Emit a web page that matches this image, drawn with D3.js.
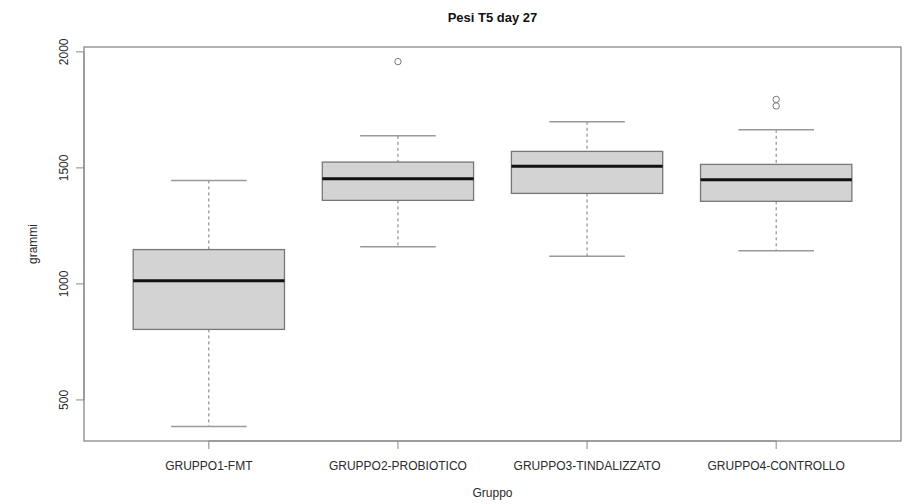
<!DOCTYPE html>
<html>
<head>
<meta charset="utf-8">
<script src="https://cdn.jsdelivr.net/npm/d3@7"></script>
<style>
  body { margin: 0; background: #fff; }
  text { font-family: "Liberation Sans", Arial, sans-serif; fill: #2a2a2a; }
</style>
</head>
<body>
<script>
// values
const groups = ['GRUPPO1-FMT', 'GRUPPO2-PROBIOTICO', 'GRUPPO3-TINDALIZZATO', 'GRUPPO4-CONTROLLO'];
const lowerWhisker = [386, 1160, 1119, 1143];
const q1 = [804, 1360, 1390, 1356];
const median = [1014, 1453, 1507, 1449];
const q3 = [1148, 1525, 1571, 1515];
const upperWhisker = [1446, 1638, 1699, 1664];
const outliers = [[], [1958], [], [1795, 1767]];
const yTicks = [500, 1000, 1500, 2000];

const w = 906, h = 504;
const plotLeft = 84, plotRight = 901, plotTop = 47, plotBottom = 441;

let svg = d3.select(document.body).append('svg')
  .attr('width', w)
  .attr('height', h);

// like R: xlim c(0.5, n + 0.5) extended by 4%
let n = groups.length;
let x = d3.scaleLinear()
  .domain([0.5 - 0.04 * n, n + 0.5 + 0.04 * n])
  .range([plotLeft, plotRight]);

let allVals = lowerWhisker.concat(upperWhisker, outliers.flat());
let lo = d3.min(allVals), hi = d3.max(allVals), pad = (hi - lo) * 0.04;
let y = d3.scaleLinear()
  .domain([lo - pad, hi + pad])
  .range([plotBottom, plotTop]);

let data = groups.map((g, i) => ({
  name: g, pos: i + 1,
  lw: lowerWhisker[i], q1: q1[i], med: median[i], q3: q3[i], uw: upperWhisker[i],
  out: outliers[i]
}));

let boxHalf = x(1.4) - x(1);
let stapleHalf = x(1.2) - x(1);

let g = svg.selectAll('.box')
  .data(data)
  .enter().append('g')
  .attr('class', 'box');

// whiskers
g.append('line')
  .attr('x1', d => x(d.pos)).attr('x2', d => x(d.pos))
  .attr('y1', d => y(d.uw)).attr('y2', d => y(d.q3))
  .attr('stroke', '#777').attr('stroke-dasharray', '3,3');
g.append('line')
  .attr('x1', d => x(d.pos)).attr('x2', d => x(d.pos))
  .attr('y1', d => y(d.q1)).attr('y2', d => y(d.lw))
  .attr('stroke', '#777').attr('stroke-dasharray', '3,3');

// staples
g.selectAll('.staple')
  .data(d => [d, d].map((e, k) => ({ pos: e.pos, v: k ? e.lw : e.uw })))
  .enter().append('line')
  .attr('x1', d => x(d.pos) - stapleHalf).attr('x2', d => x(d.pos) + stapleHalf)
  .attr('y1', d => y(d.v)).attr('y2', d => y(d.v))
  .attr('stroke', '#999').attr('stroke-width', 1.5);

// box
g.append('rect')
  .attr('x', d => x(d.pos) - boxHalf)
  .attr('width', 2 * boxHalf)
  .attr('y', d => y(d.q3))
  .attr('height', d => y(d.q1) - y(d.q3))
  .attr('fill', '#d3d3d3')
  .attr('stroke', '#777').attr('stroke-width', 1.3);

// median
g.append('line')
  .attr('x1', d => x(d.pos) - boxHalf).attr('x2', d => x(d.pos) + boxHalf)
  .attr('y1', d => y(d.med)).attr('y2', d => y(d.med))
  .attr('stroke', '#111').attr('stroke-width', 3);

// outliers
g.selectAll('.out')
  .data(d => d.out.map(v => ({ pos: d.pos, v: v })))
  .enter().append('circle')
  .attr('cx', d => x(d.pos)).attr('cy', d => y(d.v))
  .attr('r', 3.2)
  .attr('fill', 'none').attr('stroke', '#777');

// plot frame
svg.append('rect')
  .attr('x', plotLeft).attr('y', plotTop)
  .attr('width', plotRight - plotLeft).attr('height', plotBottom - plotTop)
  .attr('fill', 'none').attr('stroke', '#888').attr('stroke-width', 1.3);

// y axis
let ya = svg.append('g').attr('transform', `translate(${plotLeft},0)`);
ya.append('line')
  .attr('y1', y(yTicks[0])).attr('y2', y(yTicks[yTicks.length - 1]))
  .attr('stroke', '#888');
ya.selectAll('.tick')
  .data(yTicks)
  .enter().append('line')
  .attr('x1', -8).attr('x2', 0)
  .attr('y1', d => y(d)).attr('y2', d => y(d))
  .attr('stroke', '#888');
ya.selectAll('.lab')
  .data(yTicks)
  .enter().append('text')
  .attr('transform', d => `translate(-16,${y(d)}) rotate(-90)`)
  .attr('text-anchor', 'middle')
  .style('font-size', '12px')
  .text(d => d);

// x axis
let xa = svg.append('g').attr('transform', `translate(0,${plotBottom})`);
xa.append('line')
  .attr('x1', x(1)).attr('x2', x(n))
  .attr('stroke', '#888');
xa.selectAll('.tick')
  .data(data)
  .enter().append('line')
  .attr('x1', d => x(d.pos)).attr('x2', d => x(d.pos))
  .attr('y1', 0).attr('y2', 8)
  .attr('stroke', '#888');
xa.selectAll('.lab')
  .data(data)
  .enter().append('text')
  .attr('x', d => x(d.pos)).attr('y', 29)
  .attr('text-anchor', 'middle')
  .style('font-size', '12px')
  .text(d => d.name);

// titles
svg.append('text')
  .attr('x', (plotLeft + plotRight) / 2).attr('y', 22)
  .attr('text-anchor', 'middle')
  .style('font-size', '13px').style('font-weight', 'bold')
  .style('fill', '#111')
  .text('Pesi T5 day 27');

svg.append('text')
  .attr('x', (plotLeft + plotRight) / 2).attr('y', 497)
  .attr('text-anchor', 'middle')
  .style('font-size', '12px')
  .text('Gruppo');

svg.append('text')
  .attr('transform', `translate(37,${(plotTop + plotBottom) / 2}) rotate(-90)`)
  .attr('text-anchor', 'middle')
  .style('font-size', '12px')
  .text('grammi');
</script>
</body>
</html>
